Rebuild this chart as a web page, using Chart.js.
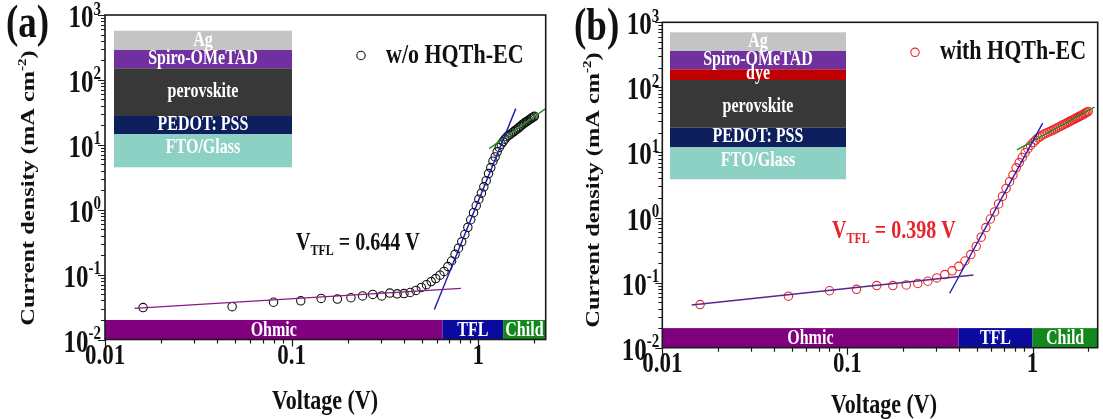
<!DOCTYPE html>
<html>
<head>
<meta charset="utf-8">
<script src="https://cdn.jsdelivr.net/npm/chart.js@4.4.1/dist/chart.umd.min.js"></script>
<style>
body { margin: 0; background: #fff; }
#wrap { position: relative; width: 1103px; height: 419px; overflow: hidden; background: #fff; }
canvas { position: absolute; top: 0; }
#panelA { left: 0; }
#panelB { left: 551px; }
</style>
</head>
<body>
<div id="wrap">
  <canvas id="panelA" width="551" height="419"></canvas>
  <canvas id="panelB" width="552" height="419"></canvas>
</div>
<script>
// measured points (V, mA cm-2)
const voltageA = [0.016, 0.048, 0.080, 0.112, 0.144, 0.176, 0.208, 0.240, 0.272, 0.304, 0.336, 0.368, 0.400, 0.432, 0.464, 0.496, 0.528, 0.560, 0.592, 0.624, 0.656, 0.688, 0.720, 0.752, 0.784, 0.816, 0.848, 0.880, 0.912, 0.944, 0.976, 1.008, 1.040, 1.072, 1.104, 1.136, 1.168, 1.200, 1.232, 1.264, 1.296, 1.328, 1.360, 1.392, 1.424, 1.456, 1.488, 1.520, 1.552, 1.584, 1.616, 1.648, 1.680, 1.712, 1.744, 1.776, 1.808, 1.840, 1.872, 1.904, 1.936, 1.968, 2.000];
const currentA = [0.031, 0.032, 0.0375, 0.0395, 0.043, 0.042, 0.044, 0.047, 0.0495, 0.047, 0.052, 0.0505, 0.051, 0.053, 0.057, 0.0635, 0.070, 0.078, 0.087, 0.098, 0.112, 0.133, 0.162, 0.205, 0.255, 0.32, 0.415, 0.535, 0.70, 0.90, 1.15, 1.45, 1.80, 2.25, 2.8, 3.6, 4.45, 5.6, 6.5, 7.8, 9.1, 10.2, 11.2, 12.2, 13.3, 14.0, 14.6, 15.2, 16.0, 16.8, 17.5, 18.3, 19.2, 20.1, 21.0, 21.8, 22.6, 23.3, 24.1, 25.0, 25.8, 26.6, 27.5];
const voltageB = [0.016, 0.048, 0.080, 0.112, 0.144, 0.176, 0.208, 0.240, 0.272, 0.304, 0.336, 0.368, 0.400, 0.432, 0.464, 0.496, 0.528, 0.560, 0.592, 0.624, 0.656, 0.688, 0.720, 0.752, 0.784, 0.816, 0.848, 0.880, 0.912, 0.944, 0.976, 1.008, 1.040, 1.072, 1.104, 1.136, 1.168, 1.200, 1.232, 1.264, 1.296, 1.328, 1.360, 1.392, 1.424, 1.456, 1.488, 1.520, 1.552, 1.584, 1.616, 1.648, 1.680, 1.712, 1.744, 1.776, 1.808, 1.840, 1.872, 1.904, 1.936, 1.968, 2.000];
const currentB = [0.046, 0.062, 0.075, 0.079, 0.090, 0.090, 0.092, 0.097, 0.105, 0.118, 0.133, 0.152, 0.178, 0.215, 0.27, 0.36, 0.50, 0.70, 0.95, 1.22, 1.62, 2.12, 2.8, 3.55, 4.5, 5.8, 7.0, 8.4, 9.9, 11.4, 12.9, 14.2, 15.5, 16.7, 17.7, 18.6, 19.4, 20.1, 20.8, 21.5, 22.2, 23.0, 23.8, 24.7, 25.5, 26.4, 27.2, 28.0, 28.9, 29.8, 30.7, 31.6, 32.5, 33.4, 34.4, 35.3, 36.2, 37.0, 38.0, 39.3, 40.5, 41.6, 42.7];

// fit lines, end points
const ohmicFitVA = [0.0144, 0.808], ohmicFitJA = [0.0302, 0.0613];
const tflFitVA = [0.582, 1.59], tflFitJA = [0.0291, 36.1];
const childFitVA = [1.145, 2.3], childFitJA = [8.74, 36.1];
const ohmicFitVB = [0.0144, 0.48], ohmicFitJB = [0.0454, 0.131];
const tflFitVB = [0.357, 1.135], tflFitJB = [0.0687, 28.3];
const childFitVB = [0.824, 2.16], childFitJB = [11.0, 49.9];

// regions along the bottom
const regionNames = ['Ohmic', 'TFL', 'Child'];
const regionEdgesA = [0.01, 0.644, 1.36, 2.3];
const regionEdgesB = [0.01, 0.398, 1.0, 2.25];
const regionTop = 0.02;

// axes
const xTickValues = [0.01, 0.1, 1];
const xTickLabels = ['0.01', '0.1', '1'];
const yTickExponents = [-2, -1, 0, 1, 2, 3];

// device stacks
const stackNamesA = ['Ag', 'Spiro-OMeTAD', 'perovskite', 'PEDOT: PSS', 'FTO/Glass'];
const stackNamesB = ['Ag', 'Spiro-OMeTAD', 'dye', 'perovskite', 'PEDOT: PSS', 'FTO/Glass'];

const STRETCH = 1.25;
const FONT = '"Liberation Serif", "Times New Roman", serif';
const regionColors = ['#800080', '#0a0a9e', '#12891c'];
const layerColors = { 'Ag': '#c4c4c4', 'Spiro-OMeTAD': '#7030a0', 'dye': '#c00000', 'perovskite': '#383838', 'PEDOT: PSS': '#0d1f5c', 'FTO/Glass': '#8dd1c4' };

function font(size) { return 'bold ' + size + 'px ' + FONT; }

function rich(ctx, parts, x, y, opts) {
  opts = opts || {};
  ctx.save();
  ctx.translate(x, y);
  ctx.scale(1, STRETCH);
  if (opts.rotate) ctx.rotate(opts.rotate);
  ctx.fillStyle = opts.color || '#111';
  ctx.textBaseline = opts.baseline || 'alphabetic';
  ctx.textAlign = 'left';
  let w = 0;
  parts.forEach(p => { ctx.font = font(p.size); p.w = ctx.measureText(p.t).width; w += p.w; });
  let cx = opts.align === 'center' ? -w / 2 : (opts.align === 'right' ? -w : 0);
  parts.forEach(p => { ctx.font = font(p.size); ctx.fillText(p.t, cx, p.dy || 0); cx += p.w; });
  ctx.restore();
}

function pts(xs, ys) { return xs.map((v, i) => ({ x: v, y: ys[i] })); }

function fitSet(xs, ys, color) {
  return { data: pts(xs, ys), showLine: true, pointRadius: 0, borderColor: color, borderWidth: 1.4 };
}

function decor(cfg) {
  return {
    id: 'decor',
    beforeDatasetsDraw(chart) {
      const ctx = chart.ctx, xs = chart.scales.x, ys = chart.scales.y;
      // region bars
      const yTop = ys.getPixelForValue(regionTop), yBot = chart.chartArea.bottom;
      for (let i = 0; i < regionNames.length; i++) {
        const x0 = xs.getPixelForValue(cfg.edges[i]);
        const x1 = Math.min(xs.getPixelForValue(cfg.edges[i + 1]), chart.chartArea.right);
        ctx.fillStyle = regionColors[i];
        ctx.fillRect(x0, yTop, x1 - x0, yBot - yTop);
        rich(ctx, [{ t: regionNames[i], size: 16 }], (x0 + x1) / 2, (yTop + yBot) / 2 + 1, { align: 'center', baseline: 'middle', color: '#fff' });
      }
      // device stack inset
      const st = cfg.stack;
      for (let i = 0; i < st.names.length; i++) {
        const y0 = st.ys[i], y1 = st.ys[i + 1];
        ctx.fillStyle = layerColors[st.names[i]];
        ctx.fillRect(st.x0, y0, st.x1 - st.x0, y1 - y0);
      }
      for (let i = 0; i < st.names.length; i++) {
        rich(ctx, [{ t: st.names[i], size: 16 }], (st.x0 + st.x1) / 2, st.textY[i], { align: 'center', baseline: 'middle', color: '#fff' });
      }
    },
    afterDraw(chart) {
      const ctx = chart.ctx, xs = chart.scales.x, ys = chart.scales.y, a = chart.chartArea;
      ctx.save();
      ctx.strokeStyle = '#1a1a1a';
      ctx.lineWidth = 1.2;
      ctx.beginPath();
      // x ticks
      for (let e = -2; e <= 0; e++) {
        for (let m = 1; m <= 9; m++) {
          const v = m * Math.pow(10, e);
          if (v > xs.max) continue;
          const px = Math.round(xs.getPixelForValue(v)) + 0.5;
          ctx.moveTo(px, a.bottom);
          ctx.lineTo(px, a.bottom + (m === 1 ? 7 : 4));
        }
      }
      // y ticks
      for (let e = -2; e <= 3; e++) {
        for (let m = 1; m <= 9; m++) {
          const v = m * Math.pow(10, e);
          if (v > ys.max) continue;
          const py = Math.round(ys.getPixelForValue(v)) + 0.5;
          ctx.moveTo(a.left, py);
          ctx.lineTo(a.left - (m === 1 ? 7 : 4), py);
        }
      }
      ctx.stroke();
      ctx.lineWidth = 1.6;
      ctx.strokeRect(a.left, a.top, a.right - a.left, a.bottom - a.top);
      ctx.restore();

      xTickValues.forEach((v, i) => {
        rich(ctx, [{ t: xTickLabels[i], size: 23 }], xs.getPixelForValue(v), a.bottom + 17, { align: 'center', baseline: 'middle' });
      });
      yTickExponents.forEach(e => {
        const py = ys.getPixelForValue(Math.pow(10, e));
        rich(ctx, [{ t: '10', size: 25 }, { t: String(e), size: 15, dy: -10 }], a.left - cfg.yLabelGap, py + 12, { align: 'right' });
      });

      // axis titles
      rich(ctx, [{ t: 'Voltage (V)', size: 22 }], cfg.xTitle[0], cfg.xTitle[1], { align: 'center' });
      rich(ctx, [{ t: 'Current density (mA cm', size: 19.5 }, { t: '-2', size: 12, dy: -8 }, { t: ')', size: 19.5 }],
        cfg.yTitle[0], cfg.yTitle[1], { align: 'center', rotate: -Math.PI / 2 });

      // panel label
      rich(ctx, [{ t: cfg.panel, size: 37 }], cfg.panelPos[0], cfg.panelPos[1], {});

      // legend
      ctx.save();
      ctx.strokeStyle = cfg.color;
      ctx.lineWidth = 1.1;
      ctx.beginPath();
      ctx.arc(cfg.legendPos[0], cfg.legendPos[1], 4.2, 0, Math.PI * 2);
      ctx.stroke();
      ctx.restore();
      rich(ctx, [{ t: cfg.legend, size: 22 }], cfg.legendPos[0] + 25, cfg.legendPos[1], { baseline: 'middle' });

      // V_TFL annotation
      rich(ctx, [{ t: 'V', size: 20 }, { t: 'TFL', size: 12, dy: 4 }, { t: ' = ' + cfg.vtfl + ' V', size: 20 }],
        cfg.vtflPos[0], cfg.vtflPos[1], { color: cfg.vtflColor });
    }
  };
}

function buildChart(id, cfg) {
  return new Chart(document.getElementById(id), {
    type: 'scatter',
    data: {
      datasets: [
        fitSet(cfg.ohmV, cfg.ohmJ, cfg.ohmColor),
        fitSet(cfg.tflV, cfg.tflJ, '#1c1cb0'),
        fitSet(cfg.childV, cfg.childJ, '#1f8c1f'),
        {
          data: pts(cfg.v, cfg.j), showLine: false, pointRadius: 4.2, pointHoverRadius: 4.2,
          pointBorderColor: cfg.color, pointBackgroundColor: 'rgba(0,0,0,0)', pointBorderWidth: 1.1
        }
      ]
    },
    options: {
      responsive: false,
      animation: false,
      layout: { padding: cfg.padding },
      plugins: { legend: { display: false }, tooltip: { enabled: false } },
      scales: {
        x: { type: 'logarithmic', min: 0.01, max: cfg.edges[3], display: false },
        y: { type: 'logarithmic', min: 0.01, max: 1000, display: false }
      }
    },
    plugins: [decor(cfg)]
  });
}

buildChart('panelA', {
  v: voltageA, j: currentA, color: '#111',
  ohmV: ohmicFitVA, ohmJ: ohmicFitJA, ohmColor: '#8a1a8a',
  tflV: tflFitVA, tflJ: tflFitJA, childV: childFitVA, childJ: childFitJA,
  edges: regionEdgesA,
  padding: { left: 105, top: 15, right: 4, bottom: 79.5 },
  yLabelGap: 4,
  stack: { names: stackNamesA, x0: 114, x1: 292, ys: [30.7, 50, 68.3, 116, 134.3, 167.3], textY: [40.5, 59, 92, 125, 148] },
  xTitle: [325, 409], yTitle: [34, 188],
  panel: '(a)', panelPos: [6, 37],
  legend: 'w/o HQTh-EC', legendPos: [361, 55.5],
  vtfl: '0.644', vtflPos: [296, 250], vtflColor: '#111'
});

buildChart('panelB', {
  v: voltageB, j: currentB, color: '#e8262a',
  ohmV: ohmicFitVB, ohmJ: ohmicFitJB, ohmColor: '#55288a',
  tflV: tflFitVB, tflJ: tflFitJB, childV: childFitVB, childJ: childFitJB,
  edges: regionEdgesB,
  padding: { left: 111.3, top: 22.3, right: 1.5, bottom: 71.3 },
  yLabelGap: 3,
  stack: { names: stackNamesB, x0: 119, x1: 295, ys: [32.3, 51, 69.3, 80, 127.7, 147.3, 179.3], textY: [41.5, 60, 73.5, 107, 137, 160.5] },
  xTitle: [333, 413], yTitle: [48, 190],
  panel: '(b)', panelPos: [23, 40],
  legend: 'with HQTh-EC', legendPos: [364, 52.3],
  vtfl: '0.398', vtflPos: [281, 238], vtflColor: '#e8232a'
});
</script>
</body>
</html>
